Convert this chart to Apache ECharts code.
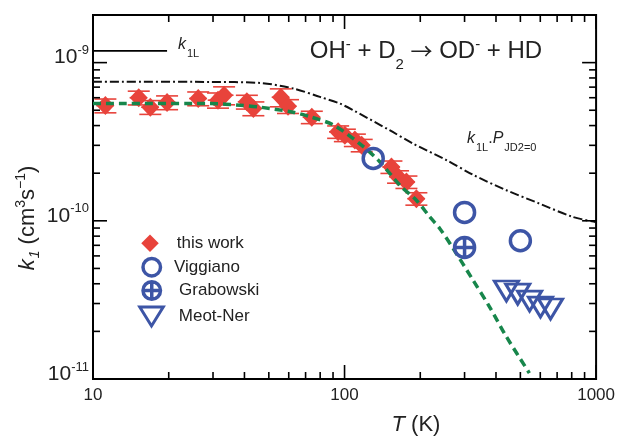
<!DOCTYPE html>
<html>
<head>
<meta charset="utf-8">
<script src="https://cdn.jsdelivr.net/npm/echarts@6/dist/echarts.min.js"></script>
<style>
html, body { margin: 0; padding: 0; background: #fff; }
#chart { width: 618px; height: 437px; }
</style>
</head>
<body>
<div id="chart"></div>
<script>
// OH- + D2 -> OD- + HD : rate coefficient k1 versus temperature T

// this work: temperature (K), rate coefficient (cm^3 s^-1), relative uncertainties (%)
const thisWorkT = [11.2, 15.2, 16.9, 19.7, 26.2, 31.4, 33.2, 40.9, 43.4, 55.8, 59.6, 74.1, 94.3, 100.3, 109.9, 117, 153.6, 163.2, 176.2, 193];
const thisWorkK = [5.35e-10, 6.0e-10, 5.23e-10, 5.6e-10, 5.93e-10, 5.79e-10, 6.22e-10, 5.65e-10, 5.13e-10, 6.04e-10, 5.3e-10, 4.52e-10, 3.65e-10, 3.48e-10, 3.24e-10, 3.0e-10, 2.19e-10, 1.9e-10, 1.76e-10, 1.38e-10];
const thisWorkKErr = [10, 10, 10, 10, 10, 11, 13, 10, 10, 13, 10, 9, 9, 9, 9, 9, 9, 9, 9, 9];
const thisWorkTErr = [8, 8, 8, 8, 8, 9, 9, 8, 8, 8, 8, 8, 8, 8, 8, 8, 8, 8, 8, 8];

// earlier measurements
const viggianoT = [130, 300, 500];
const viggianoK = [2.48e-10, 1.13e-10, 7.48e-11];
const grabowskiT = [300];
const grabowskiK = [6.79e-11];
const meotNerT = [440, 488, 544, 601, 659];
const meotNerK = [3.6e-11, 3.44e-11, 3.11e-11, 2.85e-11, 2.77e-11];

// Langevin rate k1L
const langevinT = [10, 19.7];
const langevinK = [1.186e-9, 1.186e-9];

// k1L . P(JD2=0)
const k1P0T = [10, 29.2, 46.1, 62.5, 79.8, 95.7, 108.2, 151, 187, 254, 325, 440, 592, 806, 1000];
const k1P0K = [7.57e-10, 7.55e-10, 7.44e-10, 6.86e-10, 6.07e-10, 5.51e-10, 5.0e-10, 3.74e-10, 3.08e-10, 2.42e-10, 1.95e-10, 1.56e-10, 1.29e-10, 1.06e-10, 9.8e-11];

// model curve (green dashed)
const modelT = [10, 29.2, 38.5, 46.1, 62.5, 72.8, 90.7, 116.8, 138, 168.3, 193, 218, 239, 270, 324, 377, 440, 543];
const modelK = [5.51e-10, 5.51e-10, 5.38e-10, 5.23e-10, 4.86e-10, 4.55e-10, 4.02e-10, 3.01e-10, 2.36e-10, 1.64e-10, 1.35e-10, 1.06e-10, 8.95e-11, 6.7e-11, 4.22e-11, 2.86e-11, 1.85e-11, 1.09e-11];

// axis ranges and ticks
const xMin = 10, xMax = 1000;
const yMin = 1e-11, yMax = 2e-9;
const xMajorTicks = [10, 100, 1000];
const xMinorTicks = [20, 30, 40, 50, 60, 70, 80, 90, 200, 300, 400, 500, 600, 700, 800, 900];
const yMajorTicks = [1e-11, 1e-10, 1e-9];
const yMinorTicks = [2e-11, 3e-11, 4e-11, 5e-11, 6e-11, 7e-11, 8e-11, 9e-11, 2e-10, 3e-10, 4e-10, 5e-10, 6e-10, 7e-10, 8e-10, 9e-10];

const FONT = '"Liberation Sans", Arial, Helvetica, sans-serif';
const RED = '#e8433b';
const BLUE = '#3d55a6';
const GREEN = '#17864b';
const TEXT = '#222';

const pairs = (xs, ys) => xs.map((x, i) => [x, ys[i]]);

const tickData = [].concat(
  xMajorTicks.map(v => [v, yMin, 0]),
  xMinorTicks.map(v => [v, yMin, 1]),
  yMajorTicks.map(v => [xMin, v, 2]),
  yMinorTicks.map(v => [xMin, v, 3])
);

function renderTicks(params, api) {
  const kind = api.value(2);
  const len = (kind === 0 || kind === 2) ? 14 : 7;
  const st = { stroke: '#000', lineWidth: 1.6 };
  if (kind < 2) {
    const x = api.value(0);
    const b = api.coord([x, yMin]);
    const t = api.coord([x, yMax]);
    return { type: 'group', children: [
      { type: 'line', shape: { x1: b[0], y1: b[1], x2: b[0], y2: b[1] - len }, style: st },
      { type: 'line', shape: { x1: t[0], y1: t[1], x2: t[0], y2: t[1] + len }, style: st }
    ] };
  }
  const y = api.value(1);
  const l = api.coord([xMin, y]);
  const r = api.coord([xMax, y]);
  return { type: 'group', children: [
    { type: 'line', shape: { x1: l[0], y1: l[1], x2: l[0] + len, y2: l[1] }, style: st },
    { type: 'line', shape: { x1: r[0], y1: r[1], x2: r[0] - len, y2: r[1] }, style: st }
  ] };
}

function renderErrorBars(params, api) {
  const T = api.value(0), k = api.value(1);
  const ek = api.value(2) / 100, eT = api.value(3) / 100;
  const c = api.coord([T, k]);
  const hi = api.coord([T, k * (1 + ek)]);
  const lo = api.coord([T, k * (1 - ek)]);
  const l = api.coord([T * (1 - eT), k]);
  const r = api.coord([T * (1 + eT), k]);
  const cap = 11;
  const st = { stroke: RED, lineWidth: 1.6 };
  return { type: 'group', children: [
    { type: 'line', shape: { x1: c[0], y1: hi[1], x2: c[0], y2: lo[1] }, style: st },
    { type: 'line', shape: { x1: c[0] - cap, y1: hi[1], x2: c[0] + cap, y2: hi[1] }, style: st },
    { type: 'line', shape: { x1: c[0] - cap, y1: lo[1], x2: c[0] + cap, y2: lo[1] }, style: st },
    { type: 'line', shape: { x1: l[0], y1: c[1], x2: r[0], y2: c[1] }, style: st }
  ] };
}

// open circle with a cross, and a downward-pointing triangle
const circlePlus = 'path://M0,-10A10,10,0,1,1,0,10A10,10,0,1,1,0,-10ZM0,-10L0,10M-10,0L10,0';
const downTriangle = 'path://M0,0L24,0L12,20Z';

function legendFor(name, cx, cy, w, h, textStart, extra) {
  const left = cx - w / 2;
  return Object.assign({
    data: [name],
    left: left,
    top: cy - Math.max(h, 20) / 2,
    padding: 0,
    orient: 'vertical',
    itemWidth: w,
    itemHeight: h,
    symbolKeepAspect: false,
    textStyle: {
      fontFamily: FONT, fontSize: 17, color: TEXT, lineHeight: 20,
      padding: [0, 0, 0, textStart - (left + w + 5)]
    }
  }, extra || {});
}

const chart = echarts.init(document.getElementById('chart'), null, { renderer: 'canvas' });

chart.setOption({
  animation: false,
  backgroundColor: '#fff',
  grid: { left: 93, right: 21, top: 15, bottom: 58, show: true, borderColor: '#000', borderWidth: 2, backgroundColor: 'transparent' },
  xAxis: {
    type: 'log', logBase: 10, min: xMin, max: xMax,
    axisLine: { show: false }, axisTick: { show: false }, splitLine: { show: false },
    axisLabel: {
      margin: 8, color: TEXT, fontFamily: FONT, fontSize: 17,
      formatter: v => {
        const e = Math.log10(v);
        return Math.abs(e - Math.round(e)) < 1e-6 ? String(Math.round(v)) : '';
      }
    }
  },
  yAxis: {
    type: 'log', logBase: 10, min: yMin, max: yMax,
    axisLine: { show: false }, axisTick: { show: false }, splitLine: { show: false },
    axisLabel: {
      margin: 4, color: TEXT, fontFamily: FONT,
      formatter: v => {
        const e = Math.log10(v);
        return Math.abs(e - Math.round(e)) < 1e-6 ? '{b|10}{s|' + Math.round(e) + '}' : '';
      },
      rich: {
        b: { fontSize: 21, fontFamily: FONT, color: TEXT, padding: [0, 0, 10, 0] },
        s: { fontSize: 13, fontFamily: FONT, color: TEXT, padding: [0, 0, 24, 0] }
      }
    }
  },
  legend: [
    legendFor('this work', 150, 243.3, 17.5, 17.5, 176.7),
    legendFor('Viggiano', 150, 266.7, 17.5, 17.5, 172.3, { itemStyle: { borderWidth: 3.5 } }),
    legendFor('Grabowski', 150, 290, 17.5, 17.5, 177.3, { itemStyle: { borderWidth: 3.5 } }),
    legendFor('Meot-Ner', 150, 315.5, 23.5, 19, 177.3, { itemStyle: { borderWidth: 3 } })
  ],
  series: [
    {
      name: 'k1L', type: 'line', data: pairs(langevinT, langevinK), showSymbol: false, z: 2,
      lineStyle: { color: '#000', width: 1.6 }
    },
    {
      name: 'k1L P(JD2=0)', type: 'line', data: pairs(k1P0T, k1P0K), showSymbol: false, smooth: 0.3, z: 2,
      lineStyle: { color: '#111', width: 2, type: [9, 3, 2, 3] }
    },
    {
      name: 'this work error', type: 'custom', renderItem: renderErrorBars, z: 3,
      data: thisWorkT.map((t, i) => [t, thisWorkK[i], thisWorkKErr[i], thisWorkTErr[i]]),
      encode: { x: 0, y: 1 }
    },
    {
      name: 'this work', type: 'scatter', data: pairs(thisWorkT, thisWorkK), z: 3,
      symbol: 'diamond', symbolSize: [18, 19],
      itemStyle: { color: RED, opacity: 1 }
    },
    {
      name: 'model', type: 'line', data: pairs(modelT, modelK), showSymbol: false, smooth: 0.3, z: 4,
      lineStyle: { color: GREEN, width: 3.5, type: [8, 5] }
    },
    {
      name: 'Viggiano', type: 'scatter', data: pairs(viggianoT, viggianoK), z: 5,
      symbol: 'circle', symbolSize: 20,
      itemStyle: { color: 'rgba(0,0,0,0)', borderColor: BLUE, borderWidth: 3.5, opacity: 1 }
    },
    {
      name: 'Grabowski', type: 'scatter', data: pairs(grabowskiT, grabowskiK), z: 5,
      symbol: circlePlus, symbolSize: 20,
      itemStyle: { color: 'rgba(0,0,0,0)', borderColor: BLUE, borderWidth: 3.5, opacity: 1 }
    },
    {
      name: 'Meot-Ner', type: 'scatter', data: pairs(meotNerT, meotNerK), z: 5,
      symbol: downTriangle, symbolSize: [24, 20],
      itemStyle: { color: 'rgba(0,0,0,0)', borderColor: BLUE, borderWidth: 3, opacity: 1 }
    },
    {
      name: 'ticks', type: 'custom', renderItem: renderTicks, data: tickData, z: 10,
      encode: { x: 0, y: 1 }, silent: true, clip: false
    }
  ],
  graphic: [
    {
      type: 'text', x: 426, y: 51, z: 20,
      style: {
        text: '{n|OH}{p|-}{n| + D}{d|2}{n| }{a|\u2192}{n| OD}{p|-}{n| + HD}',
        align: 'center', verticalAlign: 'middle', textAlign: 'center', textVerticalAlign: 'middle',
        fill: TEXT,
        rich: {
          n: { fontSize: 24, fontFamily: FONT, fill: TEXT },
          a: { fontSize: 22, fontFamily: '"Noto Sans CJK SC", "DejaVu Sans", sans-serif', fill: TEXT },
          p: { fontSize: 15, fontFamily: FONT, fill: TEXT, padding: [0, 0, 12, 0] },
          d: { fontSize: 15, fontFamily: FONT, fill: TEXT, padding: [28, 0, 0, 0] }
        }
      }
    },
    {
      type: 'text', x: 178, y: 44.5, z: 20,
      style: {
        text: '{k|k}{s|1L}',
        align: 'left', verticalAlign: 'middle', textAlign: 'left', textVerticalAlign: 'middle',
        fill: TEXT,
        rich: {
          k: { fontSize: 16, fontStyle: 'italic', fontFamily: FONT, fill: TEXT },
          s: { fontSize: 11, fontFamily: FONT, fill: TEXT, padding: [18, 0, 0, 1] }
        }
      }
    },
    {
      type: 'text', x: 467, y: 139, z: 20,
      style: {
        text: '{k|k}{s|1L}{n|.}{k|P}{s|JD2=0}',
        align: 'left', verticalAlign: 'middle', textAlign: 'left', textVerticalAlign: 'middle',
        fill: TEXT,
        rich: {
          k: { fontSize: 16, fontStyle: 'italic', fontFamily: FONT, fill: TEXT },
          n: { fontSize: 16, fontFamily: FONT, fill: TEXT },
          s: { fontSize: 11, fontFamily: FONT, fill: TEXT, padding: [18, 0, 0, 1] }
        }
      }
    },
    {
      type: 'text', x: 416, y: 425, z: 20,
      style: {
        text: '{i|T}{n| (K)}',
        align: 'center', verticalAlign: 'middle', textAlign: 'center', textVerticalAlign: 'middle',
        fill: TEXT,
        rich: {
          i: { fontSize: 22, fontStyle: 'italic', fontFamily: FONT, fill: TEXT },
          n: { fontSize: 22, fontFamily: FONT, fill: TEXT }
        }
      }
    },
    {
      type: 'text', x: 28, y: 218, rotation: Math.PI / 2, z: 20,
      style: {
        text: '{i|k}{is|1}{n| (cm}{p|3}{n|s}{p|\u22121}{n|)}',
        align: 'center', verticalAlign: 'middle', textAlign: 'center', textVerticalAlign: 'middle',
        fill: TEXT,
        rich: {
          i: { fontSize: 22, fontStyle: 'italic', fontFamily: FONT, fill: TEXT },
          is: { fontSize: 14, fontStyle: 'italic', fontFamily: FONT, fill: TEXT, padding: [14, 0, 0, 1] },
          n: { fontSize: 22, fontFamily: FONT, fill: TEXT },
          p: { fontSize: 14, fontFamily: FONT, fill: TEXT, padding: [0, 0, 14, 0] }
        }
      }
    }
  ]
});
</script>
</body>
</html>
